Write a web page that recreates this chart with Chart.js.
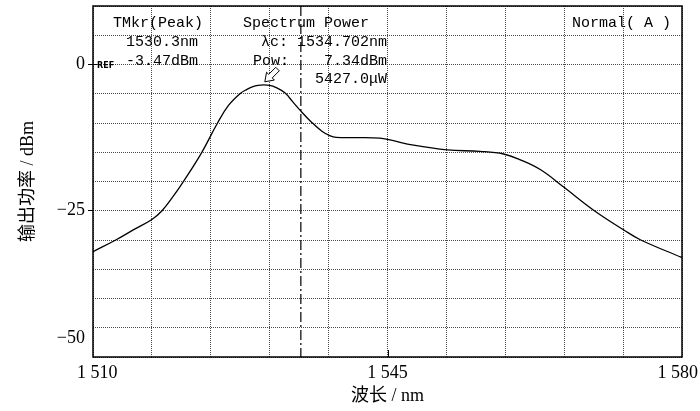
<!DOCTYPE html>
<html>
<head>
<meta charset="utf-8">
<script src="https://cdn.jsdelivr.net/npm/chart.js@4.4.1/dist/chart.umd.min.js"></script>
<style>
html,body{margin:0;padding:0;background:#fff;}
#wrap{width:700px;height:411px;position:relative;}
</style>
</head>
<body>
<div id="wrap"><canvas id="c"></canvas></div>
<script>
// ---- data ----
const wavelengths = [1510.0,1512.7,1515.0,1517.0,1518.2,1519.5,1520.7,1522.9,1524.8,1526.1,1527.5,1528.3,1529.0,1529.6,1530.3,1531.0,1531.7,1532.8,1533.7,1534.6,1536.0,1537.2,1538.2,1538.9,1541.4,1544.1,1545.3,1548.1,1552.1,1556.0,1558.8,1560.8,1563.2,1565.9,1569.5,1573.1,1575.1,1580.0];
const powers = [-32.0,-30.0,-28.1,-26.5,-25.0,-22.6,-20.1,-15.1,-10.0,-7.0,-4.95,-4.25,-3.8,-3.56,-3.47,-3.56,-3.9,-4.85,-6.3,-7.8,-9.9,-11.4,-12.2,-12.45,-12.5,-12.6,-12.9,-13.8,-14.6,-14.85,-15.3,-16.3,-18.0,-20.9,-24.9,-28.3,-30.0,-33.0];
const xTickValues = [1510, 1545, 1580];
const xTickLabels = ["1 510", "1 545", "1 580"];
const yTickValues = [0, -25, -50];
const yTickLabels = ["0", "\u221225", "\u221250"];
const centerWavelength = 1534.702;
const peakWavelength = 1530.3;
const peakPower = -3.47;
const markerText = ["TMkr(Peak)", "1530.3nm", "-3.47dBm"];
const powerText = ["Spectrum Power", "\u03bbc: 1534.702nm", "Pow:", "7.34dBm", "5427.0\u03bcW"];
const modeText = "Normal( A )";

// ---- styling constants ----
const X_MIN = 1510, X_MAX = 1580, X_STEP = 7;
const Y_MIN = -50, Y_MAX = 10, Y_STEP = 5;
const serif = "'Liberation Serif','Noto Sans CJK SC',serif";
const mono = "'Liberation Mono','DejaVu Sans Mono',monospace";
const gridColor = '#4a4a4a';
const xEdgeInset = 0.5;     // nm, nudges edge labels inward
const yBottomLift = 3.25;   // dB, nudges bottom label upward

const curve = wavelengths.map((x, i) => ({x: x, y: powers[i]}));
const centerLine = [{x: centerWavelength, y: Y_MAX}, {x: centerWavelength, y: Y_MIN}];

const overlay = {
  id: 'overlay',
  afterDatasetsDraw(chart) {
    const {ctx, chartArea: a, scales} = chart;
    const sx = scales.x, sy = scales.y;
    ctx.save();
    // frame
    ctx.strokeStyle = '#000';
    ctx.lineWidth = 1.5;
    ctx.setLineDash([]);
    ctx.strokeRect(a.left, a.top, a.right - a.left, a.bottom - a.top);
    // inner tick at 1545
    const xm = Math.round(sx.getPixelForValue(1545)) + 0.5;
    ctx.lineWidth = 1;
    ctx.beginPath(); ctx.moveTo(xm, a.bottom); ctx.lineTo(xm, a.bottom - 7); ctx.stroke();
    // REF mark
    const y0 = Math.round(sy.getPixelForValue(0)) + 0.5;
    ctx.beginPath(); ctx.moveTo(a.left, y0); ctx.lineTo(a.left + 4, y0); ctx.stroke();
    ctx.fillStyle = '#000';
    ctx.font = "bold 8px 'DejaVu Sans',sans-serif";
    ctx.textBaseline = 'middle';
    ctx.textAlign = 'left';
    ctx.fillText('REF', a.left + 4, y0 + 1);
    // peak marker arrow (hollow, pointing down-left to the peak)
    const px = sx.getPixelForValue(peakWavelength) + 1;
    const py = sy.getPixelForValue(peakPower) - 3;
    const u = [Math.SQRT1_2, -Math.SQRT1_2], v = [Math.SQRT1_2, Math.SQRT1_2];
    const shape = [[0,0],[8,5.5],[8,2.5],[18,2.5],[18,-2.5],[8,-2.5],[8,-5.5]];
    ctx.beginPath();
    shape.forEach((p, i) => {
      const X = px + p[0]*u[0] + p[1]*v[0];
      const Y = py + p[0]*u[1] + p[1]*v[1];
      if (i === 0) ctx.moveTo(X, Y); else ctx.lineTo(X, Y);
    });
    ctx.closePath();
    ctx.fillStyle = '#fff';
    ctx.fill();
    ctx.strokeStyle = '#000';
    ctx.lineWidth = 1;
    ctx.stroke();
    // instrument annotations
    ctx.fillStyle = '#000';
    ctx.font = '15px ' + mono;
    ctx.textBaseline = 'alphabetic';
    const L = a.left, T = a.top;
    ctx.textAlign = 'left';
    ctx.fillText(markerText[0], L + 20, T + 21);
    ctx.textAlign = 'right';
    ctx.fillText(markerText[1], L + 105, T + 40);
    ctx.fillText(markerText[2], L + 105, T + 59);
    ctx.textAlign = 'left';
    ctx.fillText(powerText[0], L + 150, T + 21);
    ctx.textAlign = 'right';
    ctx.fillText(powerText[1], L + 294, T + 40);
    ctx.textAlign = 'left';
    ctx.fillText(powerText[2], L + 160, T + 59);
    ctx.textAlign = 'right';
    ctx.fillText(powerText[3], L + 294, T + 59);
    ctx.fillText(powerText[4], L + 294, T + 77);
    ctx.textAlign = 'left';
    ctx.fillText(modeText, L + 479, T + 21);
    ctx.restore();
  }
};

new Chart(document.getElementById('c'), {
  type: 'line',
  data: {
    datasets: [
      {
        data: curve,
        borderColor: '#000',
        borderWidth: 1.3,
        pointRadius: 0,
        tension: 0.4,
        cubicInterpolationMode: 'default',
        fill: false,
        xAxisID: 'x', yAxisID: 'y'
      },
      {
        data: centerLine,
        borderColor: '#000',
        borderWidth: 1.2,
        borderDash: [10, 3, 2, 3],
        pointRadius: 0,
        tension: 0,
        fill: false,
        xAxisID: 'x', yAxisID: 'y'
      }
    ]
  },
  options: {
    responsive: true,
    maintainAspectRatio: false,
    animation: false,
    events: [],
    layout: {padding: {top: 6, right: 18, bottom: 0, left: 0}},
    plugins: {legend: {display: false}, tooltip: {enabled: false}},
    scales: {
      xl: {
        type: 'linear', position: 'bottom', min: X_MIN, max: X_MAX,
        afterBuildTicks(s) {
          const n = xTickValues.length;
          s.ticks = xTickValues.map((v, i) => ({value: v + (i === 0 ? xEdgeInset : (i === n - 1 ? -xEdgeInset : 0))}));
        },
        afterFit(s) { s.height = 54; s.paddingLeft = 0; s.paddingRight = 0; },
        ticks: {
          autoSkip: false, maxRotation: 0, padding: 5, color: '#000',
          font: {family: serif, size: 18},
          callback: (v, i) => xTickLabels[i]
        },
        grid: {display: false, drawTicks: false},
        border: {display: false},
        title: {display: true, text: '波长 / nm', color: '#000', font: {family: serif, size: 18}, padding: {top: 0, bottom: 4}}
      },
      x: {
        type: 'linear', position: 'bottom', min: X_MIN, max: X_MAX,
        afterFit(s) { s.height = 0; s.paddingLeft = 0; s.paddingRight = 0; },
        ticks: {stepSize: X_STEP, display: false},
        grid: {color: gridColor, lineWidth: 1, drawTicks: false, borderDash: [1, 1]},
        border: {display: false, dash: [1, 1]}
      },
      yl: {
        type: 'linear', position: 'left', min: Y_MIN, max: Y_MAX,
        afterBuildTicks(s) {
          const n = yTickValues.length;
          s.ticks = yTickValues.map((v, i) => ({value: v + (i === n - 1 ? yBottomLift : 0)}));
        },
        afterFit(s) { s.width = 93; s.paddingTop = 0; s.paddingBottom = 0; },
        ticks: {
          autoSkip: false, padding: 3, color: '#000',
          font: {family: serif, size: 18},
          callback: (v, i) => yTickLabels[i]
        },
        grid: {display: true, drawOnChartArea: false, drawTicks: true, tickLength: 5, color: (c) => (c.index === yTickValues.length - 1 ? 'rgba(0,0,0,0)' : '#000'), lineWidth: 1},
        border: {display: false},
        title: {display: true, text: '输出功率 / dBm', color: '#000', font: {family: serif, size: 18}, padding: {top: 17, bottom: 0}}
      },
      y: {
        type: 'linear', position: 'left', min: Y_MIN, max: Y_MAX,
        afterFit(s) { s.width = 0; s.paddingTop = 0; s.paddingBottom = 0; },
        ticks: {stepSize: Y_STEP, display: false},
        grid: {color: gridColor, lineWidth: 1, drawTicks: false, borderDash: [1, 1]},
        border: {display: false, dash: [1, 1]}
      }
    }
  },
  plugins: [overlay]
});
</script>
</body>
</html>
